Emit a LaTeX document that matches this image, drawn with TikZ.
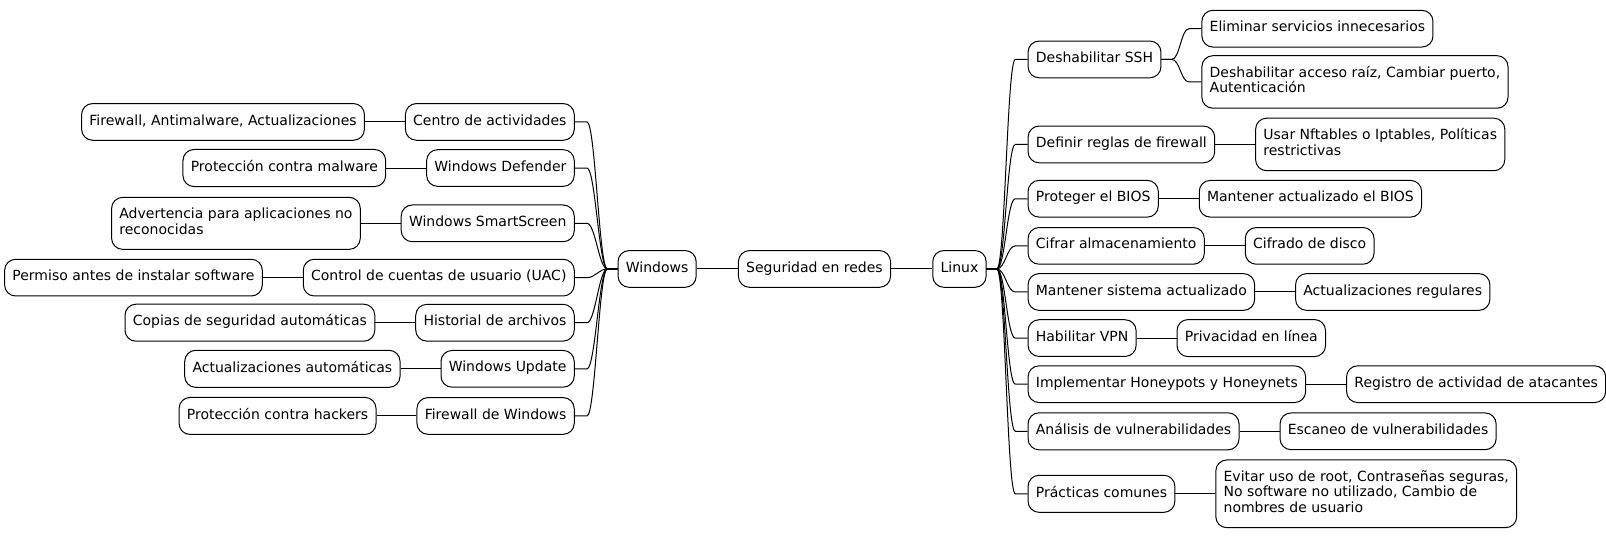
\documentclass[tikz,border=0pt]{standalone}
\usepackage{fontspec}
\setmainfont{DejaVu Sans}
\usetikzlibrary{calc}
\tikzset{
  box/.style={draw, line width=1pt, rounded corners=11pt, fill=white,
    font=\fontsize{14}{15.5}\selectfont, align=left,
    execute at begin node=\strut, execute at end node=\strut,
    inner xsep=7.8pt, inner ysep=10.6pt},
  conn/.style={line width=1pt},
  lc/.style={to path={(\tikztostart) -- ($(\tikztostart)+(-10,0)$)
     .. controls ($(\tikztostart)+(-18,0)$) and ($(\tikztotarget)+(20,0)$) ..
     ($(\tikztotarget)+(12,0)$) -- (\tikztotarget)}},
  rc/.style={to path={(\tikztostart) -- ($(\tikztostart)+(10,0)$)
     .. controls ($(\tikztostart)+(18,0)$) and ($(\tikztotarget)+(-20,0)$) ..
     ($(\tikztotarget)+(-12,0)$) -- (\tikztotarget)}}
}
\begin{document}
\begin{tikzpicture}[x=1.0245pt,y=-1.0245pt]
\useasboundingbox (0,0) rectangle (1567.6,526.1);
% centre
\node[box] (c) at (795,262.5) {Seguridad en redes};
\node[box,anchor=east] (w) at (680,262.5) {Windows};
\node[box,anchor=west] (l) at (910,262.5) {Linux};
% Windows branch
\node[box,anchor=east] (w1) at (561,119) {Centro de actividades};
\node[box,anchor=east] (w2) at (561,164) {Windows Defender};
\node[box,anchor=east] (w3) at (561,218) {Windows SmartScreen};
\node[box,anchor=east] (w4) at (561,271) {Control de cuentas de usuario (UAC)};
\node[box,anchor=east] (w5) at (561,315) {Historial de archivos};
\node[box,anchor=east] (w6) at (561,360) {Windows Update};
\node[box,anchor=east] (w7) at (561,406) {Firewall de Windows};
\node[box,anchor=east] (w1a) at ($(w1.west)+(-39,0)$) {Firewall, Antimalware, Actualizaciones};
\node[box,anchor=east] (w2a) at ($(w2.west)+(-39,0)$) {Protección contra malware};
\node[box,anchor=east] (w3a) at ($(w3.west)+(-39,0)$) {Advertencia para aplicaciones no\\reconocidas};
\node[box,anchor=east] (w4a) at ($(w4.west)+(-39,0)$) {Permiso antes de instalar software};
\node[box,anchor=east] (w5a) at ($(w5.west)+(-39,0)$) {Copias de seguridad automáticas};
\node[box,anchor=east] (w6a) at ($(w6.west)+(-39,0)$) {Actualizaciones automáticas};
\node[box,anchor=east] (w7a) at ($(w7.west)+(-39,0)$) {Protección contra hackers};
% Linux branch
\node[box,anchor=west] (l1) at (1003,58) {Deshabilitar SSH};
\node[box,anchor=west] (l2) at (1003,141) {Definir reglas de firewall};
\node[box,anchor=west] (l3) at (1003,194) {Proteger el BIOS};
\node[box,anchor=west] (l4) at (1003,240) {Cifrar almacenamiento};
\node[box,anchor=west] (l5) at (1003,285) {Mantener sistema actualizado};
\node[box,anchor=west] (l6) at (1003,330) {Habilitar VPN};
\node[box,anchor=west] (l7) at (1003,375) {Implementar Honeypots y Honeynets};
\node[box,anchor=west] (l8) at (1003,421) {Análisis de vulnerabilidades};
\node[box,anchor=west] (l9) at (1003,482) {Prácticas comunes};
\node[box,anchor=west] (l1a) at ($(l1.east)+(39,-30)$) {Eliminar servicios innecesarios};
\node[box,anchor=west] (l1b) at ($(l1.east)+(39,22)$) {Deshabilitar acceso raíz, Cambiar puerto,\\Autenticación};
\node[box,anchor=west] (l2a) at ($(l2.east)+(39,0)$) {Usar Nftables o Iptables, Políticas\\restrictivas};
\node[box,anchor=west] (l3a) at ($(l3.east)+(39,0)$) {Mantener actualizado el BIOS};
\node[box,anchor=west] (l4a) at ($(l4.east)+(39,0)$) {Cifrado de disco};
\node[box,anchor=west] (l5a) at ($(l5.east)+(39,0)$) {Actualizaciones regulares};
\node[box,anchor=west] (l6a) at ($(l6.east)+(39,0)$) {Privacidad en línea};
\node[box,anchor=west] (l7a) at ($(l7.east)+(39,0)$) {Registro de actividad de atacantes};
\node[box,anchor=west] (l8a) at ($(l8.east)+(39,0)$) {Escaneo de vulnerabilidades};
\node[box,anchor=west] (l9a) at ($(l9.east)+(39,0)$) {Evitar uso de root, Contraseñas seguras,\\No software no utilizado, Cambio de\\nombres de usuario};
% connectors
\draw[conn] (c.west) -- (w.east);
\draw[conn] (c.east) -- (l.west);
\foreach \i in {1,...,7} {\draw[conn] (w.west) to[lc] (w\i.east);}
\foreach \i in {1,...,7} {\draw[conn] (w\i.west) -- (w\i a.east);}
\foreach \i in {1,...,9} {\draw[conn] (l.east) to[rc] (l\i.west);}
\draw[conn] (l1.east) to[rc] (l1a.west);
\draw[conn] (l1.east) to[rc] (l1b.west);
\foreach \i in {2,...,9} {\draw[conn] (l\i.east) -- (l\i a.west);}
\end{tikzpicture}
\end{document}
